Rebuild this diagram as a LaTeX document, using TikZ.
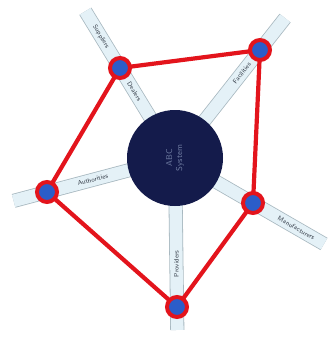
\documentclass[tikz,border=0pt]{standalone}
\usetikzlibrary{calc}
\definecolor{armfill}{HTML}{E4F1F7}
\definecolor{armedge}{HTML}{A8B8C0}
\definecolor{ringred}{HTML}{E3141C}
\definecolor{nodeblue}{HTML}{2B5DC9}
\definecolor{navy}{HTML}{141B4B}
\definecolor{centertext}{HTML}{6E7BA0}
\definecolor{labeltext}{HTML}{343C48}
\begin{document}
\begin{tikzpicture}[x=1pt,y=-1pt,
  arm/.style={line width=0.8pt, draw=armedge, double=armfill, double distance=12.5pt, line cap=butt},
  armlabel/.style={font=\fontsize{6.5}{7}\selectfont\sffamily, text=labeltext, inner sep=0pt},
  hub/.style={circle, fill=navy, minimum size=96pt, inner sep=0pt, text=centertext, align=center, font=\fontsize{8.5}{10}\selectfont\sffamily},
  member/.style={circle, fill=nodeblue, draw=ringred, line width=4pt, minimum size=20pt, inner sep=0pt},
  edge/.style={draw=ringred, line width=4.2pt, line join=round}]
\useasboundingbox (0,0) rectangle (329,338);
\coordinate (c) at (175,158);
\coordinate (pul) at (120,68);
\coordinate (pur) at (260,50);
\coordinate (pl) at (47,192);
\coordinate (prl) at (253,203);
\coordinate (pb) at (177,307);
% arm ends
\coordinate (eul) at ($(c)!172pt!(pul)$);
\coordinate (eur) at ($(c)!178pt!(pur)$);
\coordinate (el) at ($(c)!167pt!(pl)$);
\coordinate (erl) at ($(c)!172pt!(prl)$);
\coordinate (eb) at ($(c)!172pt!(pb)$);
\draw[arm] (c) -- (eul);
\draw[arm] (c) -- (eur);
\draw[arm] (c) -- (el);
\draw[arm] (c) -- (erl);
\draw[arm] (c) -- (eb);
% labels
\node[armlabel, rotate=-58.6] (lulo) at ($(c)!142pt!(pul)$) {Suppliers};
\node[armlabel, rotate=-58.6] (luli) at ($(c)!78pt!(pul)$) {Dealers};
\node[armlabel, rotate=51.8] (lur) at ($(c)!108pt!(pur)$) {Facilities};
\node[armlabel, rotate=14.9] (ll) at ($(c)!85pt!(pl)$) {Authorities};
\node[armlabel, rotate=-30] (lrl) at ($(c)!140pt!(prl)$) {Manufacturers};
\node[armlabel, rotate=90] (lb) at ($(c)!106pt!(pb)$) {Providers};
% hub
\node[hub] (hub) at (c) {\rotatebox{90}{\begin{tabular}{@{}c@{}}ABC\\System\end{tabular}}};
% pentagon
\draw[edge] (pul) -- (pur) -- (prl) -- (pb) -- (pl) -- cycle;
% members
\node[member] (ul) at (pul) {};
\node[member] (ur) at (pur) {};
\node[member] (l) at (pl) {};
\node[member] (rl) at (prl) {};
\node[member] (b) at (pb) {};
\end{tikzpicture}
\end{document}
